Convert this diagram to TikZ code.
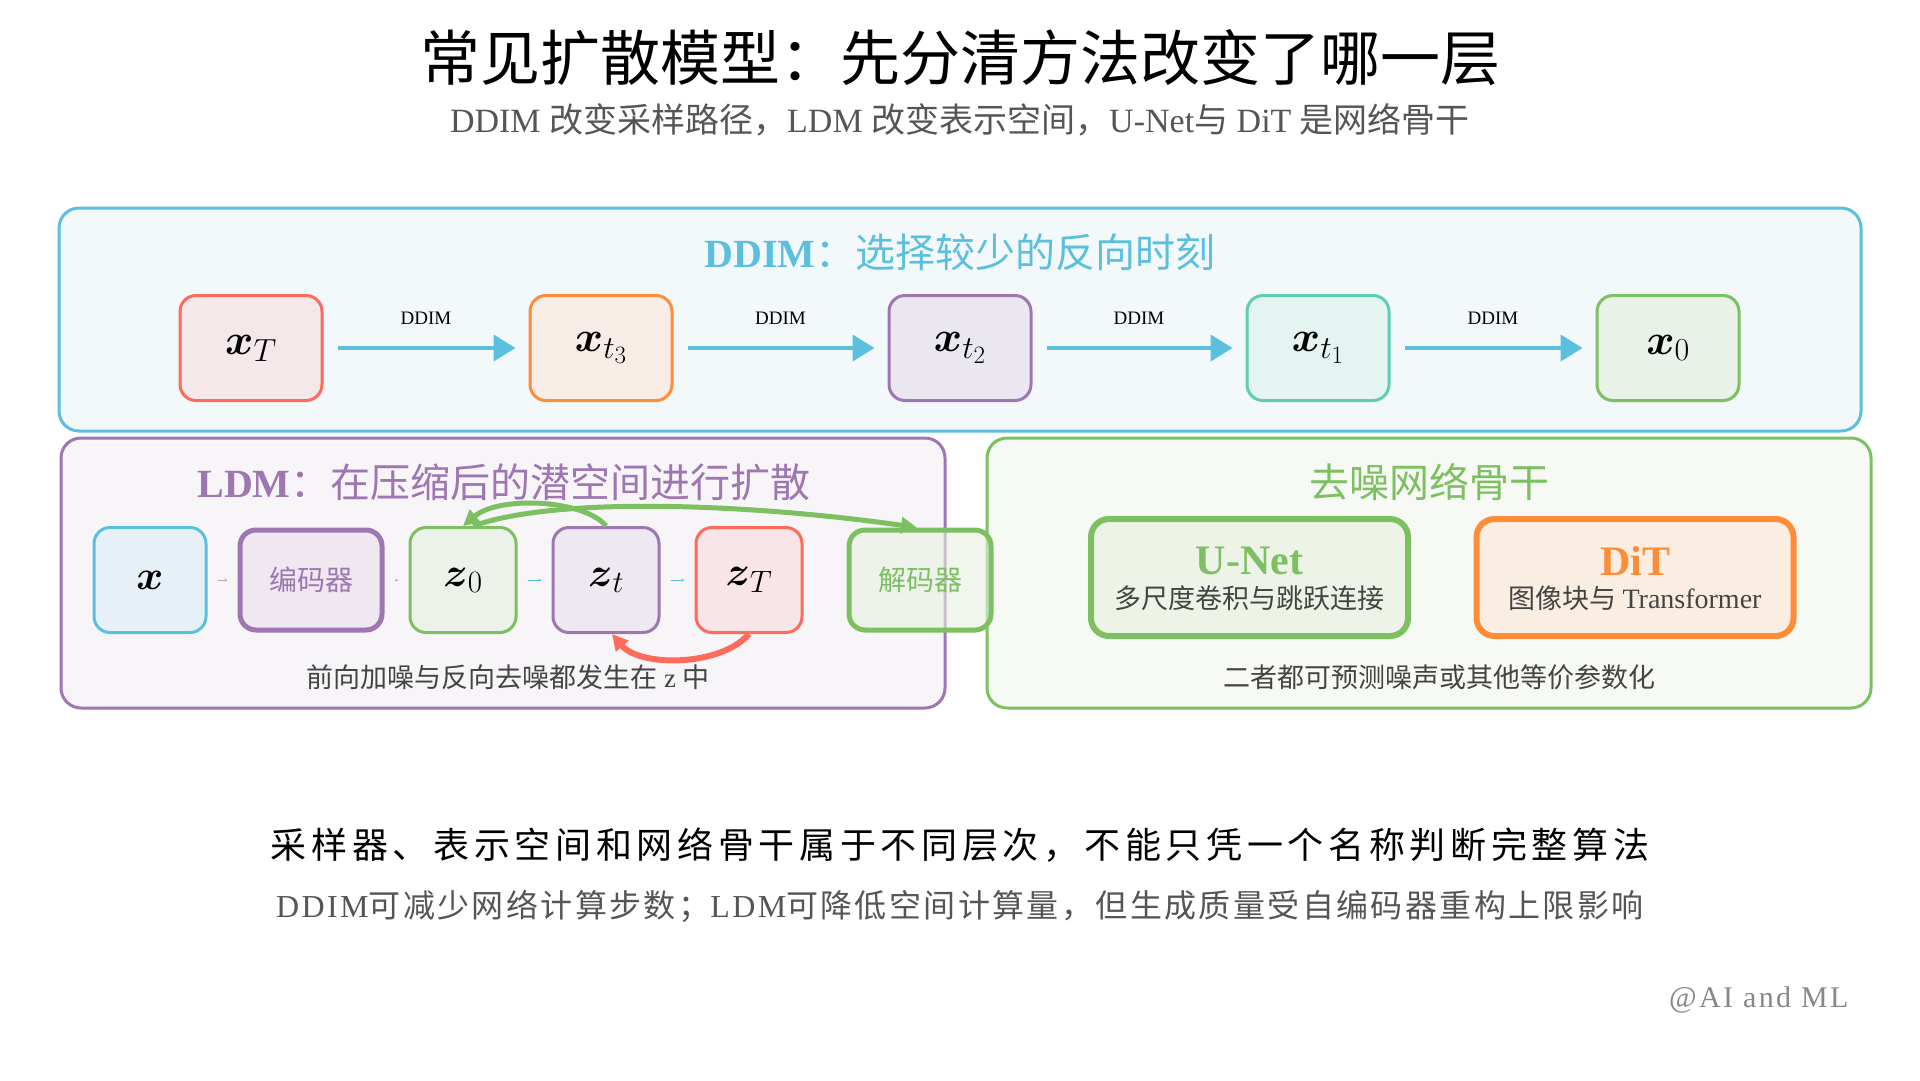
\RequirePackage{fix-cm}
\documentclass[tikz,border=0pt]{standalone}
\usepackage{amsmath}
\usepackage{fontspec}
\setmainfont{Liberation Serif}
\newfontfamily\cjk{Noto Sans CJK SC}
\newfontfamily\cjkA[LetterSpace=13]{Noto Sans CJK SC}
\newfontfamily\cjkB[LetterSpace=7.5]{Noto Sans CJK SC}
\newfontfamily\serB[LetterSpace=7.5]{Liberation Serif}
\newfontfamily\serW[LetterSpace=8]{Liberation Serif}
\DeclareMathSizes{43}{43}{32}{25}
\DeclareMathSizes{41}{41}{31}{24}
\usetikzlibrary{arrows.meta}
\newcommand\zh[1]{{\cjk #1}}
\newcommand\fs[1]{\fontsize{#1}{#1}\selectfont}

\definecolor{cCyan}{HTML}{5BC0DE}
\definecolor{cRed}{HTML}{FF6B5B}
\definecolor{cOrange}{HTML}{FF8C38}
\definecolor{cPurple}{HTML}{9D76B2}
\definecolor{cTeal}{HTML}{5ECDB3}
\definecolor{cGreen}{HTML}{7DC062}
\definecolor{pCyan}{HTML}{F3F8FB}
\definecolor{pPurple}{HTML}{F8F5F9}
\definecolor{pGreen}{HTML}{F7FAF4}
\definecolor{fRed}{HTML}{F5E8EA}
\definecolor{fOrange}{HTML}{F8EDE6}
\definecolor{fPurple}{HTML}{EAE7F1}
\definecolor{fTeal}{HTML}{E4F4F1}
\definecolor{fGreen}{HTML}{E8F2E8}
\definecolor{fBlue}{HTML}{E8F0F7}
\definecolor{fEnc}{HTML}{EFE8F1}
\definecolor{fZ0}{HTML}{ECF2EA}
\definecolor{fZt}{HTML}{EEE8F1}
\definecolor{fZT}{HTML}{F9E5E7}
\definecolor{fDec}{HTML}{E6F0E0}
\definecolor{fUnet}{HTML}{EDF4E7}
\definecolor{fDit}{HTML}{FAEEE3}
\definecolor{tGray}{HTML}{555555}
\definecolor{tDark}{HTML}{444444}
\definecolor{tWm}{HTML}{888888}

\begin{document}
\begin{tikzpicture}[x=1pt,y=-1pt,
  panel/.style={rounded corners=20pt, line width=3pt},
  mbox/.style={rounded corners=16pt, line width=3pt, minimum width=142pt, minimum height=105pt, inner sep=0pt, font=\fs{43}},
  lbox/.style={rounded corners=16pt, line width=3pt, minimum width=106pt, minimum height=105pt, inner sep=0pt, font=\fs{41}},
  wbox/.style={rounded corners=16pt, line width=5pt, minimum width=142pt, minimum height=100pt, inner sep=0pt, font=\cjk\fs{28}},
  bbox/.style={rounded corners=18pt, line width=6pt, minimum width=317pt, minimum height=117pt, inner sep=0pt},
  bigarrow/.style={draw=cCyan, line width=4pt, -{Triangle[length=22pt,width=26pt]}, shorten <=14pt, shorten >=13pt},
  ddlab/.style={font=\fs{19}, text=black},
  tinyarrow/.style={line width=1pt, -{Stealth[length=3pt,width=3pt]}, shorten <=10pt, shorten >=10pt},
  heading/.style={font=\fs{40}},
  capt/.style={font=\cjk\fs{27}, text=tDark},
  curvearrow/.style={line width=5pt, -{Triangle[length=16pt,width=16pt]}}
]
\fill[white] (0,0) rectangle (1920,1080);
\useasboundingbox (0,0) rectangle (1920,1080);

% title
\node[font=\cjk\fs{60}] (title) at (960,58) {常见扩散模型：先分清方法改变了哪一层};
\node[font=\fs{34}, text=tGray] (subtitle) at (960,120) {DDIM {\cjk 改变采样路径，}LDM {\cjk 改变表示空间，}U-Net{\cjk 与} DiT {\cjk 是网络骨干}};

% panels
\draw[panel, draw=cCyan, fill=pCyan] (59,208) rectangle (1861,431);
\draw[panel, draw=cPurple, fill=pPurple] (61,438) rectangle (945,708);
\draw[panel, draw=cGreen, fill=pGreen] (987,438) rectangle (1871,708);

% DDIM row
\node[heading, text=cCyan] (hddim) at (960,252) {\textbf{DDIM}\zh{：选择较少的反向时刻}};
\node[mbox, draw=cRed, fill=fRed] (n1) at (251,348) {$\boldsymbol{x}_{T}$};
\node[mbox, draw=cOrange, fill=fOrange] (n2) at (601,348) {$\boldsymbol{x}_{t_3}$};
\node[mbox, draw=cPurple, fill=fPurple] (n3) at (960,348) {$\boldsymbol{x}_{t_2}$};
\node[mbox, draw=cTeal, fill=fTeal] (n4) at (1318,348) {$\boldsymbol{x}_{t_1}$};
\node[mbox, draw=cGreen, fill=fGreen] (n5) at (1668,348) {$\boldsymbol{x}_{0}$};
\draw[bigarrow] (n1) -- (n2) node[ddlab, midway, yshift=30pt] (l1) {DDIM};
\draw[bigarrow] (n2) -- (n3) node[ddlab, midway, yshift=30pt] (l2) {DDIM};
\draw[bigarrow] (n3) -- (n4) node[ddlab, midway, yshift=30pt] (l3) {DDIM};
\draw[bigarrow] (n4) -- (n5) node[ddlab, midway, yshift=30pt] (l4) {DDIM};

% LDM row
\node[heading, text=cPurple] (hldm) at (504,482) {\textbf{LDM}\zh{：在压缩后的潜空间进行扩散}};
\node[lbox, draw=cCyan, fill=fBlue, minimum width=112pt] (lx) at (150,580) {$\boldsymbol{x}$};
\node[wbox, draw=cPurple, fill=fEnc, text=cPurple] (enc) at (311,580) {编码器};
\node[lbox, draw=cGreen, fill=fZ0] (z0) at (463,580) {$\boldsymbol{z}_{0}$};
\node[lbox, draw=cPurple, fill=fZt] (zt) at (606,580) {$\boldsymbol{z}_{t}$};
\node[lbox, draw=cRed, fill=fZT] (zT) at (749,580) {$\boldsymbol{z}_{T}$};
\node[wbox, draw=cGreen, fill=fDec, fill opacity=0.6, text opacity=1, text=cGreen] (dec) at (920,580) {解码器};
\draw[tinyarrow, draw=cPurple!70] (lx) -- (enc);
\draw[tinyarrow, draw=cPurple!40!pink] (enc) -- (z0);
\draw[tinyarrow, draw=cCyan] (z0) -- (zt);
\draw[tinyarrow, draw=cCyan] (zt) -- (zT);
\draw[curvearrow, draw=cGreen] (zt.north) .. controls (585,500) and (500,495) .. (z0.north);
\draw[curvearrow, draw=cGreen] ([xshift=10pt]z0.north) .. controls (560,495) and (760,505) .. ([xshift=-3pt]dec.north);
\draw[curvearrow, draw=cRed, line width=6pt] (zT.south) .. controls (720,667) and (640,667) .. ([xshift=6pt]zt.south);
\node[capt] (cldm) at (508,677) {前向加噪与反向去噪都发生在{\rmfamily\ z\ }中};

% backbone
\node[heading, text=cGreen, font=\cjk\fs{40}] (hbb) at (1429,482) {去噪网络骨干};
\node[bbox, draw=cGreen, fill=fUnet] (unet) at (1249.5,577.5) {};
\node[bbox, draw=cOrange, fill=fDit] (dit) at (1635,577.5) {};
\node[font=\bfseries\fs{42}, text=cGreen] (unett) at (1249.5,561) {U-Net};
\node[font=\cjk\fs{27}, text=tDark] (unetd) at (1249.5,598) {多尺度卷积与跳跃连接};
\node[font=\bfseries\fs{42}, text=cOrange] (ditt) at (1635,561) {DiT};
\node[font=\cjk\fs{27}, text=tDark] (ditd) at (1635,598) {图像块与 {\rmfamily\fs{28}Transformer}};
\node[capt] (cbb) at (1439,677) {二者都可预测噪声或其他等价参数化};

% bottom
\node[font=\cjkA\fs{36}, text=black] (b1) at (960,845) {采样器、表示空间和网络骨干属于不同层次，不能只凭一个名称判断完整算法};
\node[font=\fs{32}, text=tGray] (b2) at (960,906) {{\serB DDIM}{\cjkB 可减少网络计算步数；}{\serB LDM}{\cjkB 可降低空间计算量，但生成质量受自编码器重构上限影响}};
\node[anchor=east, font=\serW\fs{30}, text=tWm] (wm) at (1852,1000) {@AI and ML};
\end{tikzpicture}
\end{document}
